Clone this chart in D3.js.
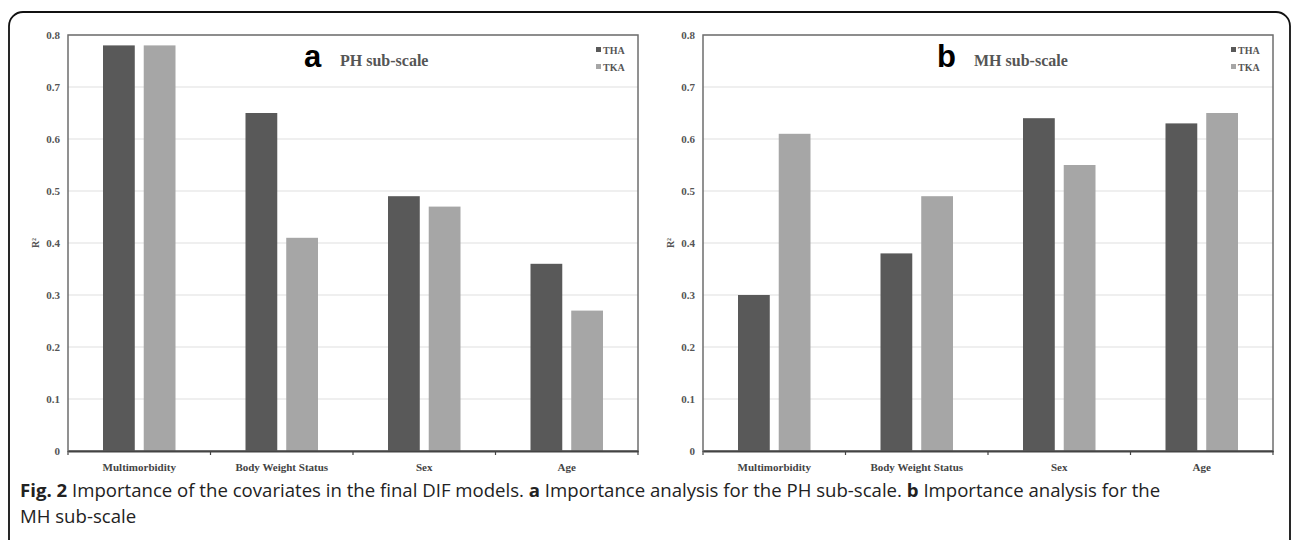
<!DOCTYPE html>
<html>
<head>
<meta charset="utf-8">
<script src="https://cdn.jsdelivr.net/npm/d3@7"></script>
<style>
  body { margin: 0; background: #fff; }
  svg { display: block; }
</style>
</head>
<body>
<div id="chart"></div>
<script>
// values
const categories = ["Multimorbidity", "Body Weight Status", "Sex", "Age"];
const seriesNames = ["THA", "TKA"];
const phTHA = [0.78, 0.65, 0.49, 0.36];
const phTKA = [0.78, 0.41, 0.47, 0.27];
const mhTHA = [0.30, 0.38, 0.64, 0.63];
const mhTKA = [0.61, 0.49, 0.55, 0.65];
const yTicks = [0, 0.1, 0.2, 0.3, 0.4, 0.5, 0.6, 0.7, 0.8];
const captionLines = [
  ["Fig. 2", " Importance of the covariates in the final DIF models. ", "a", " Importance analysis for the PH sub-scale. ", "b", " Importance analysis for the"],
  ["", "MH sub-scale"]
];

const colors = {THA: "#595959", TKA: "#a6a6a6"};
const serif = "'Liberation Serif', 'Times New Roman', serif";

const svg = d3.select("#chart").append("svg")
  .attr("width", 1292)
  .attr("height", 540);

// outer rounded frame (runs off the bottom of the picture)
svg.append("rect")
  .attr("x", 9).attr("y", 12)
  .attr("width", 1281).attr("height", 560)
  .attr("rx", 14)
  .attr("fill", "none")
  .attr("stroke", "#111")
  .attr("stroke-width", 1.8);

const panels = [
  {left: 68, top: 35, letter: "a", title: "PH sub-scale", tha: phTHA, tka: phTKA, letterX: 304, titleX: 340},
  {left: 703, top: 35, letter: "b", title: "MH sub-scale", tha: mhTHA, tka: mhTKA, letterX: 937, titleX: 974}
];

const width = 570, height = 416;

panels.forEach(p => {
  const g = svg.append("g").attr("transform", `translate(${p.left},${p.top})`);

  const x0 = d3.scaleBand().domain(categories).range([0, width]).padding(0);
  const x1 = d3.scaleBand().domain(seriesNames)
    .range([35, x0.bandwidth() - 35]).paddingInner(0.22);
  const y = d3.scaleLinear().domain([0, 0.8]).range([height, 0]);

  // gridlines
  g.append("g").selectAll("line")
    .data(yTicks.slice(1))
    .join("line")
    .attr("x1", 0).attr("x2", width)
    .attr("y1", d => y(d)).attr("y2", d => y(d))
    .attr("stroke", "#e0e0e0")
    .attr("stroke-width", 1.2);

  // bars
  const rows = categories.map((c, i) => ({cat: c, THA: p.tha[i], TKA: p.tka[i]}));
  g.append("g").selectAll("g")
    .data(rows)
    .join("g")
    .attr("transform", d => `translate(${x0(d.cat)},0)`)
    .selectAll("rect")
    .data(d => seriesNames.map(s => ({s, v: d[s]})))
    .join("rect")
    .attr("x", d => x1(d.s))
    .attr("width", x1.bandwidth())
    .attr("y", d => y(d.v))
    .attr("height", d => height - y(d.v))
    .attr("fill", d => colors[d.s]);

  // plot frame
  g.append("rect")
    .attr("width", width).attr("height", height)
    .attr("fill", "none")
    .attr("stroke", "#6e6e6e")
    .attr("stroke-width", 1.5);

  // y axis labels
  const yAxis = d3.axisLeft(y).tickValues(yTicks).tickSize(0).tickPadding(8)
    .tickFormat(d => d === 0 ? "0" : d3.format(".1f")(d));
  g.append("g").call(yAxis)
    .call(a => a.select(".domain").remove())
    .selectAll("text")
    .attr("font-family", serif)
    .attr("font-weight", "bold")
    .attr("font-size", 11)
    .attr("fill", "#555");

  // x axis with ticks between categories
  const xAxis = d3.axisBottom(x0).tickSize(0).tickPadding(12);
  const xa = g.append("g").attr("transform", `translate(0,${height})`).call(xAxis);
  xa.select(".domain").attr("stroke", "#444").attr("stroke-width", 1.8);
  xa.selectAll("text")
    .attr("font-family", serif)
    .attr("font-weight", "bold")
    .attr("font-size", 11)
    .attr("fill", "#444");
  xa.append("g").selectAll("line")
    .data(d3.range(categories.length + 1))
    .join("line")
    .attr("x1", i => i * x0.step()).attr("x2", i => i * x0.step())
    .attr("y1", 0).attr("y2", 4)
    .attr("stroke", "#444").attr("stroke-width", 1.2);

  // R² label
  svg.append("text")
    .attr("transform", `translate(${p.left - 33},${p.top + y(0.4)}) rotate(-90)`)
    .attr("text-anchor", "middle")
    .attr("dy", "0.35em")
    .attr("font-family", serif)
    .attr("font-weight", "bold")
    .attr("font-size", 10)
    .attr("fill", "#555")
    .text("R²");

  // panel letter + title
  svg.append("text")
    .attr("x", p.letterX).attr("y", p.top + 32)
    .attr("font-family", "'Liberation Sans', Arial, sans-serif")
    .attr("font-weight", "bold")
    .attr("font-size", 31)
    .attr("fill", "#000")
    .text(p.letter);
  svg.append("text")
    .attr("x", p.titleX).attr("y", p.top + 31)
    .attr("font-family", serif)
    .attr("font-weight", "bold")
    .attr("font-size", 16)
    .attr("fill", "#555")
    .text(p.title);

  // legend
  const lg = g.append("g").attr("transform", `translate(${width - 42},${15})`);
  seriesNames.forEach((s, i) => {
    lg.append("rect")
      .attr("x", 0).attr("y", i * 17 - 3)
      .attr("width", 5).attr("height", 5)
      .attr("fill", colors[s]);
    lg.append("text")
      .attr("x", 7).attr("y", i * 17)
      .attr("dy", "0.35em")
      .attr("font-family", serif)
      .attr("font-weight", "bold")
      .attr("font-size", 10)
      .attr("fill", "#555")
      .text(s);
  });
});

// caption
captionLines.forEach((parts, li) => {
  const t = svg.append("text")
    .attr("x", 20).attr("y", 497 + li * 26)
    .attr("font-family", "'Open Sans', 'Noto Sans', sans-serif")
    .attr("font-size", 18.6)
    .attr("fill", "#222");
  parts.forEach((txt, k) => {
    if (!txt) return;
    t.append("tspan")
      .attr("font-weight", k % 2 === 0 && li === 0 ? "bold" : "normal")
      .text(txt);
  });
});
</script>
</body>
</html>
